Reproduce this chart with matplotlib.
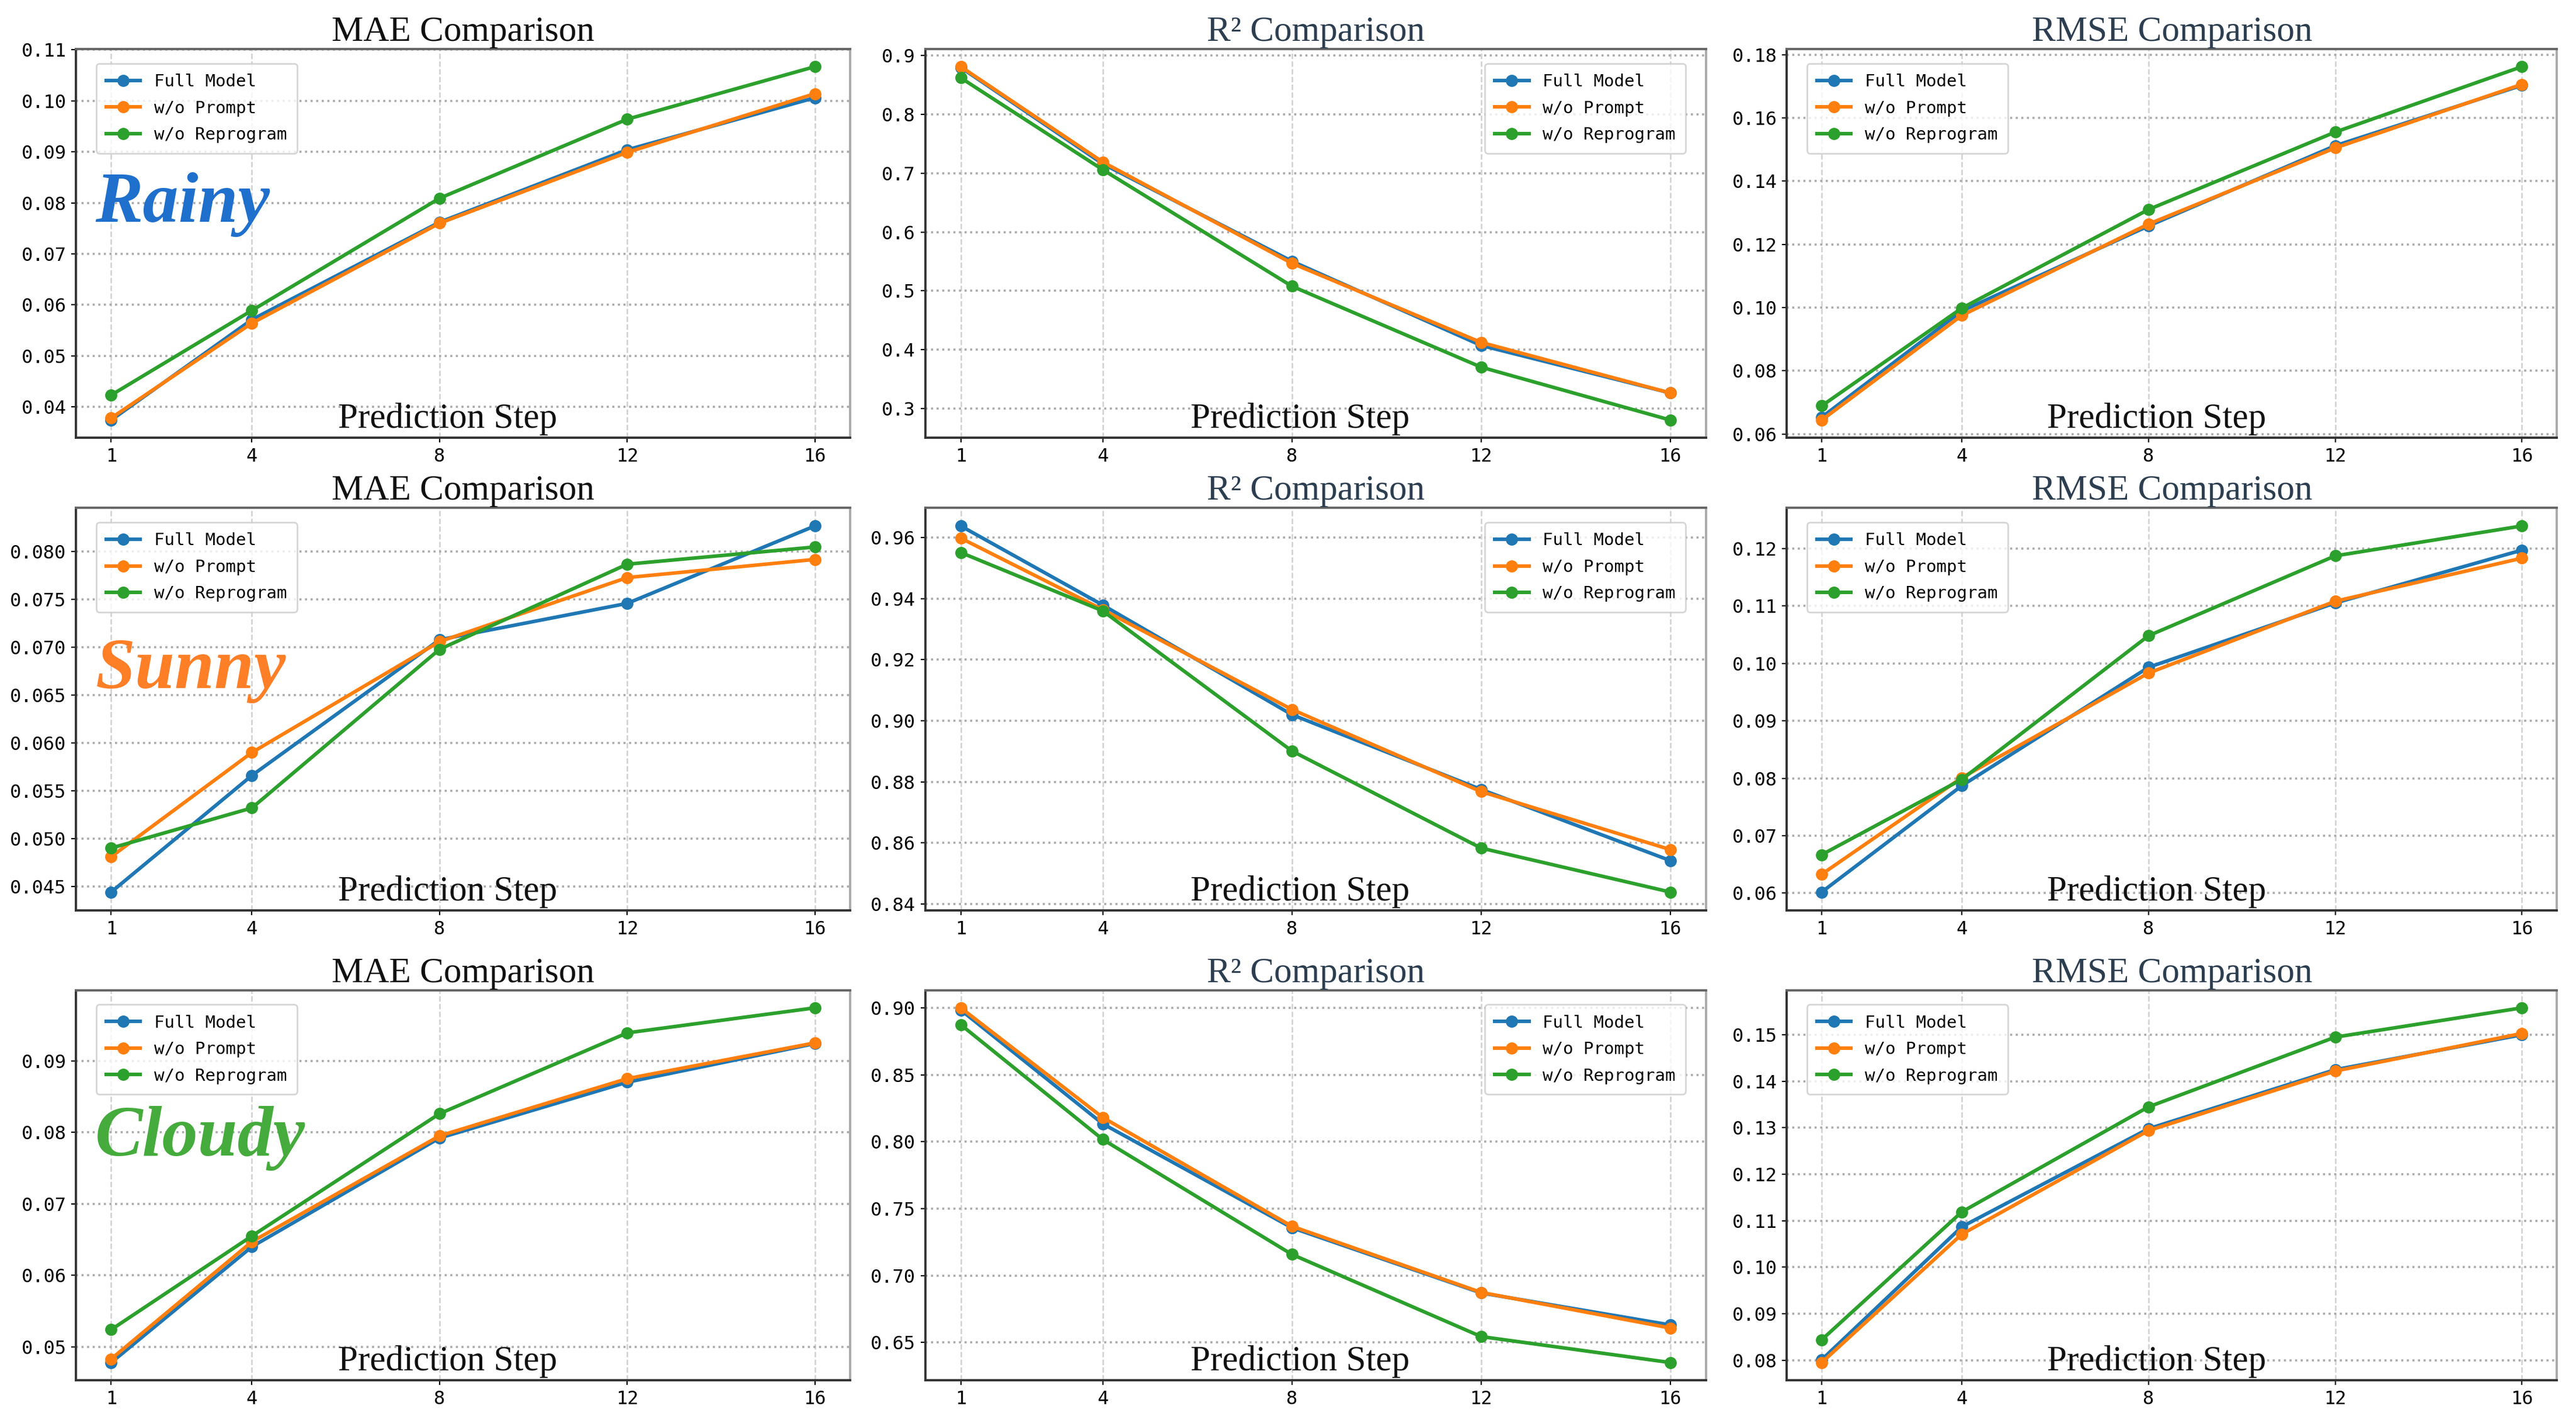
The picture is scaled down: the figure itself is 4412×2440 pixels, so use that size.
import matplotlib
matplotlib.use("Agg")
import matplotlib.pyplot as plt
from matplotlib.ticker import MultipleLocator

steps = [1, 4, 8, 12, 16]
series_names = ["Full Model", "w/o Prompt", "w/o Reprogram"]
series_colors = ["#1f77b4", "#ff7f0e", "#2ca02c"]
conditions = ["Rainy", "Sunny", "Cloudy"]
condition_colors = ["#1f6fcc", "#ff7f27", "#45ab3c"]
metrics = ["MAE", "R²", "RMSE"]

# Rainy
rainy_mae_full = [0.0374, 0.0571, 0.0762, 0.0904, 0.1006]
rainy_mae_prompt = [0.0378, 0.0564, 0.0760, 0.0899, 0.1014]
rainy_mae_reprog = [0.0423, 0.0589, 0.0809, 0.0964, 0.1067]
rainy_r2_full = [0.8796, 0.716, 0.5505, 0.4074, 0.3266]
rainy_r2_prompt = [0.881, 0.719, 0.547, 0.4125, 0.3266]
rainy_r2_reprog = [0.862, 0.706, 0.508, 0.3705, 0.2806]
rainy_rmse_full = [0.0653, 0.0989, 0.1258, 0.1512, 0.1703]
rainy_rmse_prompt = [0.0644, 0.0975, 0.1264, 0.1505, 0.1706]
rainy_rmse_reprog = [0.0689, 0.0998, 0.1310, 0.1555, 0.1762]

# Sunny
sunny_mae_full = [0.0444, 0.0566, 0.0708, 0.0746, 0.0827]
sunny_mae_prompt = [0.0481, 0.0590, 0.0706, 0.0773, 0.0792]
sunny_mae_reprog = [0.0490, 0.0532, 0.0698, 0.0787, 0.0805]
sunny_r2_full = [0.9638, 0.9379, 0.9020, 0.8775, 0.8542]
sunny_r2_prompt = [0.9598, 0.9364, 0.9037, 0.8768, 0.8578]
sunny_r2_reprog = [0.9551, 0.9360, 0.8901, 0.8583, 0.8439]
sunny_rmse_full = [0.0602, 0.0787, 0.0993, 0.1105, 0.1197]
sunny_rmse_prompt = [0.0633, 0.0801, 0.0983, 0.1108, 0.1183]
sunny_rmse_reprog = [0.0667, 0.0798, 0.1048, 0.1187, 0.1239]

# Cloudy
cloudy_mae_full = [0.0478, 0.0640, 0.0792, 0.0870, 0.0924]
cloudy_mae_prompt = [0.0483, 0.0647, 0.0795, 0.0875, 0.0925]
cloudy_mae_reprog = [0.0524, 0.0655, 0.0826, 0.0939, 0.0974]
cloudy_r2_full = [0.8984, 0.8134, 0.7357, 0.6870, 0.6631]
cloudy_r2_prompt = [0.9000, 0.8181, 0.7368, 0.6874, 0.6608]
cloudy_r2_reprog = [0.8874, 0.8017, 0.7158, 0.6544, 0.6350]
cloudy_rmse_full = [0.0801, 0.1087, 0.1298, 0.1425, 0.1500]
cloudy_rmse_prompt = [0.0795, 0.1071, 0.1294, 0.1422, 0.1503]
cloudy_rmse_reprog = [0.0844, 0.1119, 0.1345, 0.1495, 0.1558]

data = [
    [[rainy_mae_full, rainy_mae_prompt, rainy_mae_reprog],
     [rainy_r2_full, rainy_r2_prompt, rainy_r2_reprog],
     [rainy_rmse_full, rainy_rmse_prompt, rainy_rmse_reprog]],
    [[sunny_mae_full, sunny_mae_prompt, sunny_mae_reprog],
     [sunny_r2_full, sunny_r2_prompt, sunny_r2_reprog],
     [sunny_rmse_full, sunny_rmse_prompt, sunny_rmse_reprog]],
    [[cloudy_mae_full, cloudy_mae_prompt, cloudy_mae_reprog],
     [cloudy_r2_full, cloudy_r2_prompt, cloudy_r2_reprog],
     [cloudy_rmse_full, cloudy_rmse_prompt, cloudy_rmse_reprog]],
]

tick_steps = [[0.01, 0.1, 0.02], [0.005, 0.02, 0.01], [0.01, 0.05, 0.01]]
title_colors = ["#111111", "#2c3e50", "#2c3e50"]
legend_locs = ["upper left", "upper right", "upper left"]

fig = plt.figure(figsize=(22.06, 12.2), dpi=200)

col_lefts = [0.0295, 0.3592, 0.6936]
col_widths = [0.3005, 0.3030, 0.2990]
row_bottoms = [0.6926, 0.3607, 0.0307]
row_heights = [0.2730, 0.2828, 0.2740]

serif = "Liberation Serif"
mono = "DejaVu Sans Mono"
label_y = [0.60, 0.595, 0.62]

for r in range(3):
    for c in range(3):
        ax = fig.add_axes([col_lefts[c], row_bottoms[r], col_widths[c], row_heights[r]])
        for s in range(3):
            ax.plot(steps, data[r][c][s], marker="o", markersize=6.5, lw=2.2,
                    color=series_colors[s], label=series_names[s])
        ax.set_xticks(steps)
        ax.yaxis.set_major_locator(MultipleLocator(tick_steps[r][c]))
        ax.grid(axis="y", ls=":", color="#aaaaaa", lw=1.3)
        ax.grid(axis="x", ls="--", color="#d0d0d0", lw=0.9)
        ax.set_axisbelow(True)
        for lab in ax.get_xticklabels() + ax.get_yticklabels():
            lab.set_fontfamily(mono)
            lab.set_fontsize(11.5)
        ax.tick_params(length=3, width=0.8, pad=3)
        ax.spines["left"].set_color("#333333")
        ax.spines["bottom"].set_color("#333333")
        ax.spines["top"].set_color("#666666")
        ax.spines["right"].set_color("#aaaaaa")
        for sp in ax.spines.values():
            sp.set_linewidth(1.4)
        ax.set_title(f"{metrics[c]} Comparison", fontfamily=serif, fontsize=22,
                     color=title_colors[c], pad=5)
        ax.text(0.48, 0.025, "Prediction Step", transform=ax.transAxes,
                ha="center", va="baseline", fontfamily=serif, fontsize=22,
                color="#111111")
        ax.legend(loc=legend_locs[c], prop={"family": mono, "size": 10.5},
                  borderpad=0.6, labelspacing=0.6, handlelength=2.0,
                  bbox_to_anchor=(0.015, 0.985) if c != 1 else (0.985, 0.985))
        if c == 0:
            ax.text(0.025, label_y[r], conditions[r], transform=ax.transAxes,
                    ha="left", va="center", fontfamily=serif, fontsize=44,
                    fontweight="bold", fontstyle="italic",
                    color=condition_colors[r])

fig.savefig("out.png", dpi=200)
